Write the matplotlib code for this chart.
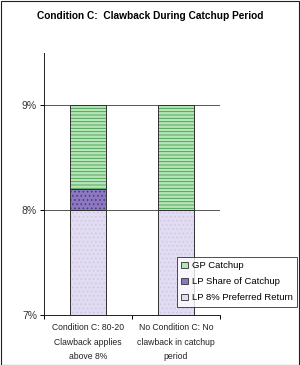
import matplotlib
matplotlib.use("Agg")
import matplotlib.pyplot as plt
from matplotlib.patches import Patch, Rectangle
import numpy as np

categories = ["Condition C: 80-20\nClawback applies\nabove 8%",
              "No Condition C: No\nclawback in catchup\nperiod"]
lp_pref = [8.0, 8.0]
lp_share = [0.2, 0.0]
gp_catchup = [0.8, 1.0]
series_names = ["GP Catchup", "LP Share of Catchup", "LP 8% Preferred Return"]
yticks = [7, 8, 9]
ytick_labels = ["7%", "8%", "9%"]

plt.rcParams['font.family'] = ['Arial', 'Liberation Sans', 'DejaVu Sans']
plt.rcParams['hatch.linewidth'] = 0.6

fig = plt.figure(figsize=(3.0, 3.65), dpi=100)
ax = fig.add_axes([44/300, 1-315/365, 176/300, 262/365])

x = np.arange(len(categories))
w = 0.41

styles = [
    # face, hatch, hatchcolor
    ("#e2dcf2", "....", "#cfc4e6"),
    ("#8c78c0", "....", "#4a3480"),
    ("#b6e6b8", "-----", "#3f9a4c"),
]
data = [lp_pref, lp_share, gp_catchup]
bottom = np.zeros(len(categories))
for (face, hatch, hc), vals in zip(styles, data):
    vals = np.array(vals)
    ax.bar(x, vals, w, bottom=bottom, color=face, linewidth=0, zorder=2)
    ax.bar(x, vals, w, bottom=bottom, fill=False, hatch=hatch, edgecolor=hc, linewidth=0, zorder=3)
    ax.bar(x, vals, w, bottom=bottom, fill=False, edgecolor="#303030", linewidth=0.7, zorder=4)
    bottom = bottom + vals

ax.set_xlim(-0.5, 1.5)
ax.set_ylim(7, 9.5)
ax.set_yticks(yticks)
ax.set_yticklabels(ytick_labels, fontsize=7.5, color="#333333")
ax.set_xticks([-0.5, 0.5, 1.5])
ax.set_xticklabels([])
ax.set_xticks(x, minor=True)
ax.set_xticklabels(categories, minor=True, fontsize=6.2, color="#222222", linespacing=1.75)
ax.tick_params(axis='x', which='minor', length=0, pad=6)
ax.tick_params(axis='x', which='major', length=3, width=0.7, direction='out')
ax.tick_params(axis='y', length=3, width=0.7, direction='out', pad=2)
for s in ["top", "right"]:
    ax.spines[s].set_visible(False)
for s in ["left", "bottom"]:
    ax.spines[s].set_linewidth(0.7)
    ax.spines[s].set_color("#202020")
for yv in [8, 9]:
    ax.axhline(yv, color="#555555", linewidth=0.7, zorder=1)

fig.text(0.5, 1-16/365, "Condition C:  Clawback During Catchup Period",
         ha="center", va="center", fontsize=7.3, fontweight="bold")

handles = []
for (face, hatch, hc), name in zip(styles[::-1], series_names):
    handles.append(Patch(facecolor=face, edgecolor="#303030", linewidth=0.6, label=name))
leg = fig.legend(handles=handles, loc="upper right", bbox_to_anchor=(297/300, 1-257/365),
                 fontsize=6.8, frameon=True, fancybox=False, edgecolor="#202020",
                 handlelength=0.7, handleheight=0.7, handletextpad=0.4,
                 labelspacing=0.75, borderpad=0.45, borderaxespad=0)
leg.get_frame().set_linewidth(0.7)
leg.set_zorder(10)

fig.patches.append(Rectangle((0.5/300, 0.5/365), 298.5/300, 363.5/365, transform=fig.transFigure,
                             fill=False, edgecolor="#202020", linewidth=0.8))

fig.savefig("out.png", dpi=100)
